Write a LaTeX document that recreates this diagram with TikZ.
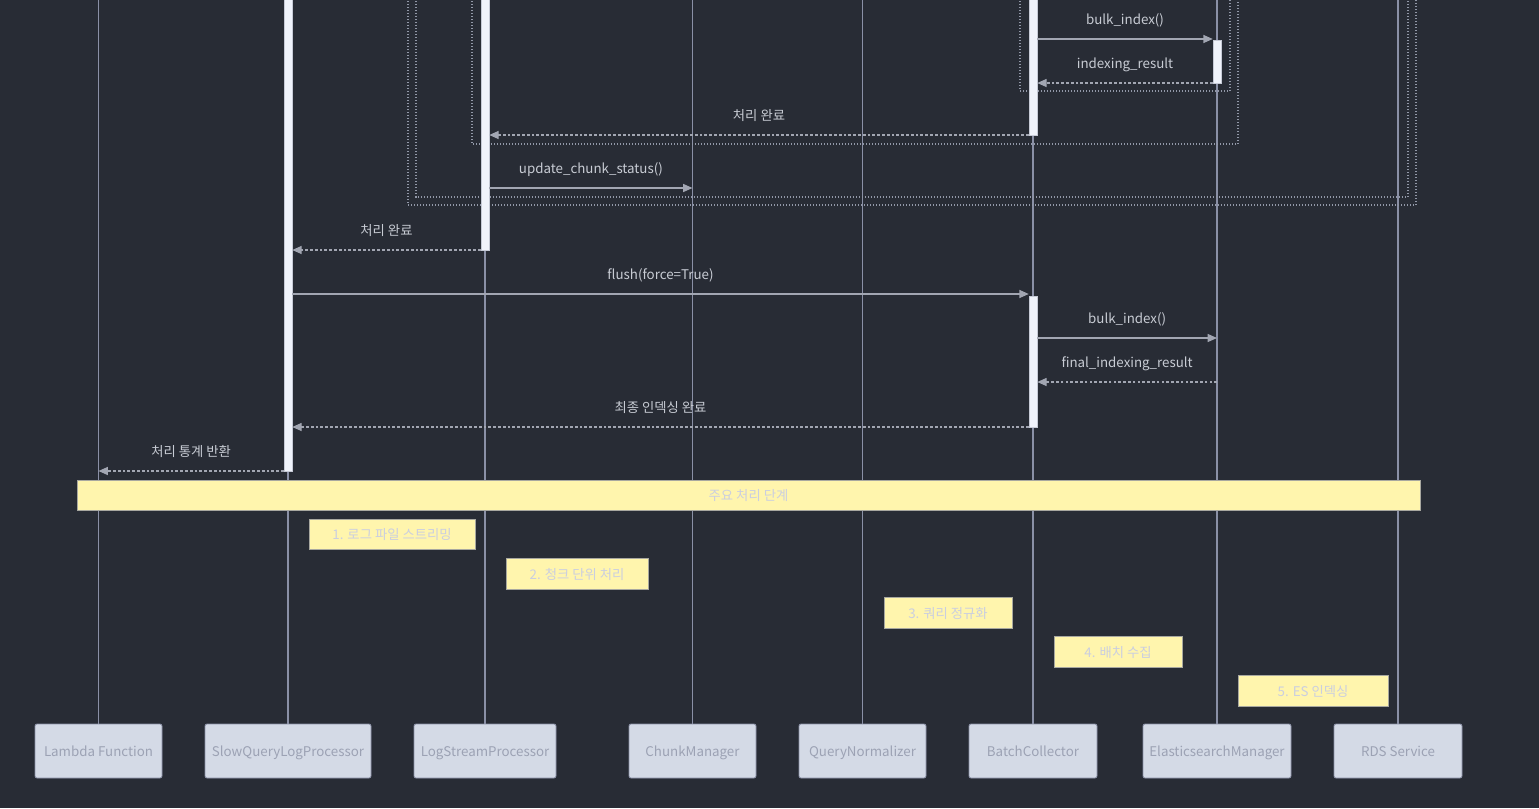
\documentclass[tikz,border=0pt]{standalone}
\usepackage{fontspec}
\setmainfont{Noto Sans CJK KR}
\usetikzlibrary{arrows.meta}

\definecolor{bg}{HTML}{282C35}
\definecolor{lifeline}{HTML}{8A90A6}
\definecolor{msgline}{HTML}{A2A6B2}
\definecolor{lbltext}{HTML}{C8CCD4}
\definecolor{actfill}{HTML}{F0F3FB}
\definecolor{actborder}{HTML}{C6CAD6}
\definecolor{partfill}{HTML}{D4DAE6}
\definecolor{partborder}{HTML}{8A90A6}
\definecolor{parttext}{HTML}{9CA2B4}
\definecolor{framecol}{HTML}{9298A8}
\definecolor{notefill}{HTML}{FFF5AD}
\definecolor{noteborder}{HTML}{A8A8A0}
\definecolor{notetext}{HTML}{CACEE0}

\newcommand{\px}{0.75pt}

\begin{document}
\begin{tikzpicture}[x=0.75pt,y=-0.75pt,
  font=\fontsize{10}{12}\selectfont,
  part/.style={draw=partborder, fill=partfill, text=parttext, rounded corners=1.5pt,
    inner sep=0pt, line width=0.6pt, minimum height=54*\px,
    text height=10pt, text depth=1.5pt},
  life/.style={draw=lifeline, line width=1pt},
  actbar/.style={draw=actborder, fill=actfill, inner sep=0pt, minimum width=8*\px,
    line width=0.4pt, anchor=north},
  msg/.style={draw=msgline, line width=0.9pt, -{Triangle[length=7pt,width=6pt]}},
  reply/.style={msg, dash pattern=on 2pt off 1.6pt},
  lbl/.style={text=lbltext, inner sep=0pt, midway, yshift=15pt,
    text height=10pt, text depth=1.5pt},
  frame/.style={draw=framecol, line width=0.9pt, dash pattern=on 1pt off 1.25pt},
  note/.style={draw=noteborder, fill=notefill, text=notetext, inner sep=0pt,
    line width=0.5pt, minimum height=31*\px, text height=10pt, text depth=1.5pt}]

% canvas
\fill[bg] (0,0) rectangle (1539,808);
\useasboundingbox (0,0) rectangle (1539,808);

% participants
\node[part, minimum width=127*\px] (lam) at (98.5,751) {Lambda Function};
\node[part, minimum width=166*\px] (sq)  at (288,751)  {SlowQueryLogProcessor};
\node[part, minimum width=142*\px] (ls)  at (485,751)  {LogStreamProcessor};
\node[part, minimum width=127*\px] (cm)  at (692.5,751) {ChunkManager};
\node[part, minimum width=127*\px] (qn)  at (862.5,751) {QueryNormalizer};
\node[part, minimum width=128*\px] (bc)  at (1033,751) {BatchCollector};
\node[part, minimum width=148*\px] (es)  at (1217,751) {ElasticsearchManager};
\node[part, minimum width=128*\px] (rds) at (1398,751) {RDS Service};

% lifelines
\foreach \p in {lam,sq,ls,cm,qn,bc,es,rds}
  \draw[life] (\p.north) -- (\p.north |- 0,-10);

% loop / group frames
\draw[frame] (408,-20) rectangle (1416,205);
\draw[frame] (416,-20) rectangle (1408,197);
\draw[frame] (472,-20) rectangle (1238,144);
\draw[frame] (1020,-20) rectangle (1230,91);

% activation bars
\node[actbar, minimum height=476*\px] (a1) at (sq.north |- 0,-5) {};
\node[actbar, minimum height=255*\px] (a2) at (ls.north |- 0,-5) {};
\node[actbar, minimum height=140*\px] (a3) at (bc.north |- 0,-5) {};
\node[actbar, minimum height=43*\px]  (a4) at (es.north |- 0,40) {};
\node[actbar, minimum height=131*\px] (a5) at (bc.north |- 0,296) {};

% messages
\draw[msg]   (a3.east |- 0,39)  -- node[lbl] {bulk\_index()} (a4.west |- 0,39);
\draw[reply] (a4.west |- 0,83)  -- node[lbl] {indexing\_result} (a3.east |- 0,83);
\draw[reply] (a3.west |- 0,135) -- node[lbl] {처리 완료} (a2.east |- 0,135);
\draw[msg]   (a2.east |- 0,188) -- node[lbl] {update\_chunk\_status()} (cm.north |- 0,188);
\draw[reply] (a2.west |- 0,250) -- node[lbl] {처리 완료} (a1.east |- 0,250);
\draw[msg]   (a1.east |- 0,294) -- node[lbl] {flush(force=True)} (a5.west |- 0,294);
\draw[msg]   (a5.east |- 0,338) -- node[lbl] {bulk\_index()} (es.north |- 0,338);
\draw[reply] (es.north |- 0,382) -- node[lbl] {final\_indexing\_result} (a5.east |- 0,382);
\draw[reply] (a5.west |- 0,427) -- node[lbl] {최종 인덱싱 완료} (a1.east |- 0,427);
\draw[reply] (a1.west |- 0,471) -- node[lbl] {처리 통계 반환} (lam.north |- 0,471);

% notes
\node[note, minimum width=1343*\px, minimum height=30*\px] (nmain) at (748.5,495) {주요 처리 단계};
\node[note, minimum width=166*\px, minimum height=30*\px] (n1) at (392,534) {1. 로그 파일 스트리밍};
\node[note, minimum width=142*\px] (n2) at (577,573.5) {2. 청크 단위 처리};
\node[note, minimum width=128*\px] (n3) at (948,612.5) {3. 쿼리 정규화};
\node[note, minimum width=128*\px] (n4) at (1118,651.5) {4. 배치 수집};
\node[note, minimum width=150*\px] (n5) at (1313,690.5) {5. ES 인덱싱};

\end{tikzpicture}
\end{document}
